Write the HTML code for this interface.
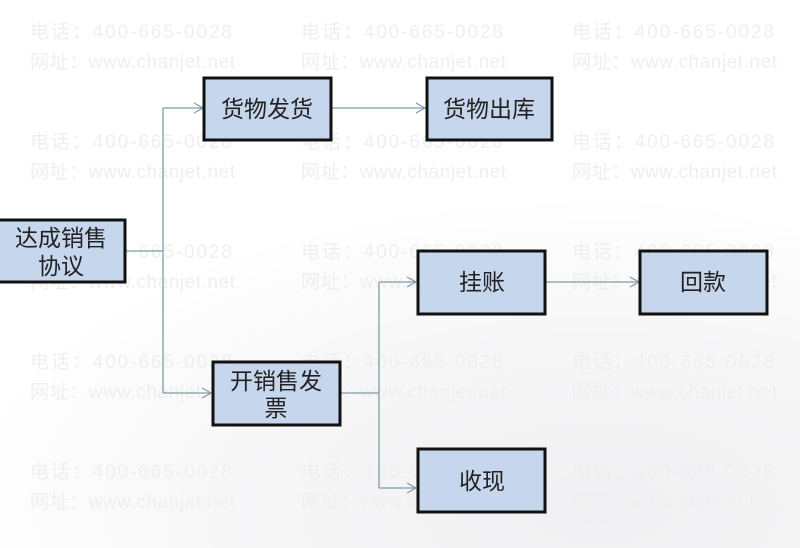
<!DOCTYPE html>
<html><head><meta charset="utf-8"><style>
html,body{margin:0;padding:0;background:#fff;}
svg{display:block;}
</style></head><body>
<svg width="800" height="548" viewBox="0 0 800 548" xmlns="http://www.w3.org/2000/svg">
<defs>
<radialGradient id="sw" cx="0.75" cy="0.9" r="0.8">
<stop offset="0" stop-color="#f0f0f2"/><stop offset="0.6" stop-color="#f7f7f8"/><stop offset="1" stop-color="#ffffff"/>
</radialGradient>
<marker id="ar" markerWidth="12" markerHeight="12" refX="10" refY="6" orient="auto" markerUnits="userSpaceOnUse">
<path d="M1,1 L10,6 L1,11" fill="none" stroke="#7f9aa8" stroke-width="1.2"/>
</marker>
</defs>
<rect width="800" height="548" fill="#fff"/>
<path d="M0,200 C200,130 450,150 800,230 L800,548 L0,548 Z" fill="url(#sw)"/>
<g font-family="Liberation Sans, 'Noto Sans CJK SC', sans-serif" font-size="19" fill="#efefef">
<g id="wm">
<text x="30" y="38" textLength="202" lengthAdjust="spacing">电话：400-665-0028</text>
<text x="30" y="68" textLength="205" lengthAdjust="spacing">网址：www.chanjet.net</text>
<text x="301" y="38" textLength="202" lengthAdjust="spacing">电话：400-665-0028</text>
<text x="301" y="68" textLength="205" lengthAdjust="spacing">网址：www.chanjet.net</text>
<text x="572" y="38" textLength="202" lengthAdjust="spacing">电话：400-665-0028</text>
<text x="572" y="68" textLength="205" lengthAdjust="spacing">网址：www.chanjet.net</text>
</g>
<use href="#wm" y="110"/>
<use href="#wm" y="220"/>
<use href="#wm" y="330"/>
<use href="#wm" y="440"/>
</g>
<g stroke="#7f9aa8" stroke-width="1.3" fill="none">
<path d="M125,251 H163"/>
<path d="M163,108 V393"/>
<path d="M163,108 H203" marker-end="url(#ar)"/>
<path d="M163,393 H211" marker-end="url(#ar)"/>
<path d="M331,108 H425" marker-end="url(#ar)"/>
<path d="M340,393 H379"/>
<path d="M379,282 V488"/>
<path d="M379,282 H416" marker-end="url(#ar)"/>
<path d="M379,488 H416" marker-end="url(#ar)"/>
<path d="M546,282 H639" marker-end="url(#ar)"/>
</g>
<g fill="#c6d6ec" stroke="#111" stroke-width="3">
<rect x="204" y="78" width="127" height="62"/>
<rect x="427" y="78" width="125" height="62"/>
<rect x="-3" y="220" width="128" height="62"/>
<rect x="213" y="362" width="127" height="63"/>
<rect x="418" y="251" width="127" height="63"/>
<rect x="640" y="251" width="127" height="63"/>
<rect x="418" y="449" width="127" height="63"/>
</g>
<g font-family="Liberation Sans, 'Noto Sans CJK SC', sans-serif" font-size="23" fill="#222" text-anchor="middle">
<text x="267" y="117">货物发货</text>
<text x="489" y="117">货物出库</text>
<text x="61" y="246">达成销售</text>
<text x="61" y="274">协议</text>
<text x="276" y="389">开销售发</text>
<text x="276" y="416">票</text>
<text x="482" y="290">挂账</text>
<text x="703" y="290">回款</text>
<text x="482" y="489">收现</text>
</g>
</svg>
</body></html>
